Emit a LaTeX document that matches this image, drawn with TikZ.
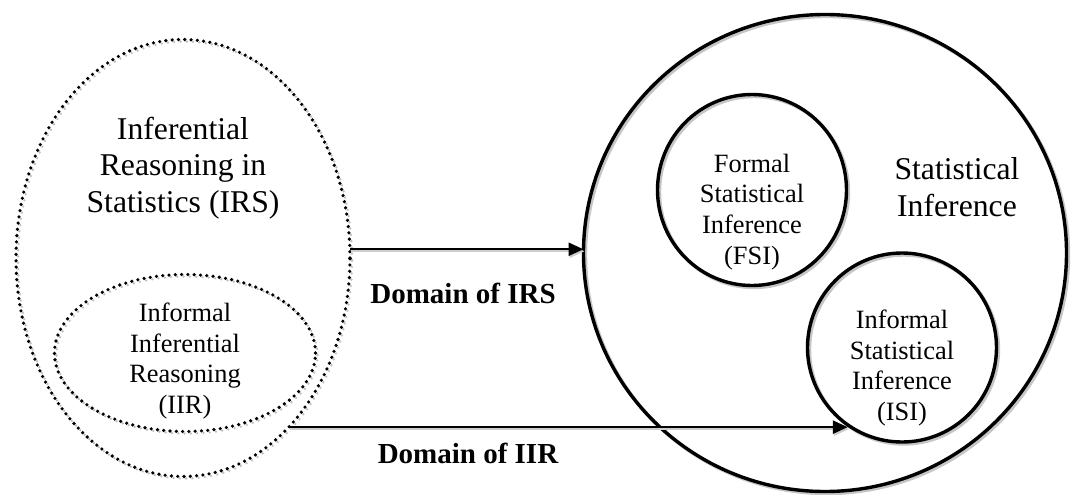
\documentclass[tikz,border=0pt]{standalone}
\usepackage{fontspec}
\setmainfont{Liberation Serif}
\usetikzlibrary{shapes.geometric,arrows.meta}
\begin{document}
\begin{tikzpicture}[x=1pt,y=-1pt,
  dotline/.style={draw=black, line width=3.6pt, line cap=round, dash pattern=on 0pt off 6.3pt},
  dotshadow/.style={draw=gray!50, line width=2.6pt, line cap=round, dash pattern=on 0pt off 6.3pt},
  solidline/.style={draw=black, line width=3.4pt},
  shadowline/.style={draw=gray!45, line width=3.4pt},
  ell/.style={ellipse, inner sep=0pt, outer sep=0pt},
  arr/.style={line width=2.4pt, -{Triangle[length=15pt,width=13pt]}},
  arrshadow/.style={line width=2.4pt, draw=gray!40, -{Triangle[length=15pt,width=13pt,fill=gray!40]}},
  bigtext/.style={align=center, font=\fontsize{31.7}{36.5}\selectfont},
  smalltext/.style={align=center, font=\fontsize{26.4}{30.8}\selectfont},
  domtext/.style={font=\fontsize{29}{34}\selectfont\bfseries}
]
\useasboundingbox (0,0) rectangle (1071,495);

% shadows
\node[ell, dotshadow, minimum width=334pt, minimum height=437pt] (sIRS) at (185,260) {};
\node[ell, dotshadow, minimum width=261pt, minimum height=157pt] (sIIR) at (187,355) {};
\node[ell, shadowline, minimum width=483pt, minimum height=477pt] (sSI) at (827,255) {};
\node[ell, shadowline, minimum width=189pt, minimum height=191pt] (sFSI) at (754,192) {};
\node[ell, shadowline, minimum width=189pt, minimum height=189pt] (sISI) at (904,349.5) {};

% main shapes
\node[ell, dotline, minimum width=334pt, minimum height=437pt] (IRS) at (183,258) {};
\node[ell, dotline, minimum width=261pt, minimum height=157pt] (IIR) at (185,353) {};
\node[ell, solidline, minimum width=483pt, minimum height=477pt] (SI) at (825,253) {};
\node[ell, solidline, minimum width=189pt, minimum height=191pt] (FSI) at (752,190) {};
\node[ell, solidline, minimum width=189pt, minimum height=189pt] (ISI) at (902,347.5) {};

% texts
\node[bigtext] (tIRS) at (183,168) {Inferential\\Reasoning in\\Statistics (IRS)};
\node[smalltext] (tIIR) at (185,361) {Informal\\Inferential\\Reasoning\\(IIR)};
\node[smalltext] (tFSI) at (752,212) {Formal\\Statistical\\Inference\\(FSI)};
\node[smalltext] (tISI) at (902,368) {Informal\\Statistical\\Inference\\(ISI)};
\node[bigtext] (tSI) at (957,187) {Statistical\\Inference};

% arrows
\draw[arrshadow] ([shift={(1,2)}]IRS.3.7) -- ([shift={(1,2)}]SI.west |- IRS.3.7);
\draw[arrshadow] ([shift={(1,2)}]IRS.-58) -- ([shift={(1,2)}]IRS.-58 -| ISI.235);
\draw[arr] (IRS.3.7) -- (SI.west |- IRS.3.7);
\draw[arr] (IRS.-58) -- (IRS.-58 -| ISI.235);

\node[domtext] (d1) at (463,293) {Domain of IRS};
\node[domtext] (d2) at (468,453) {Domain of IIR};
\end{tikzpicture}
\end{document}
